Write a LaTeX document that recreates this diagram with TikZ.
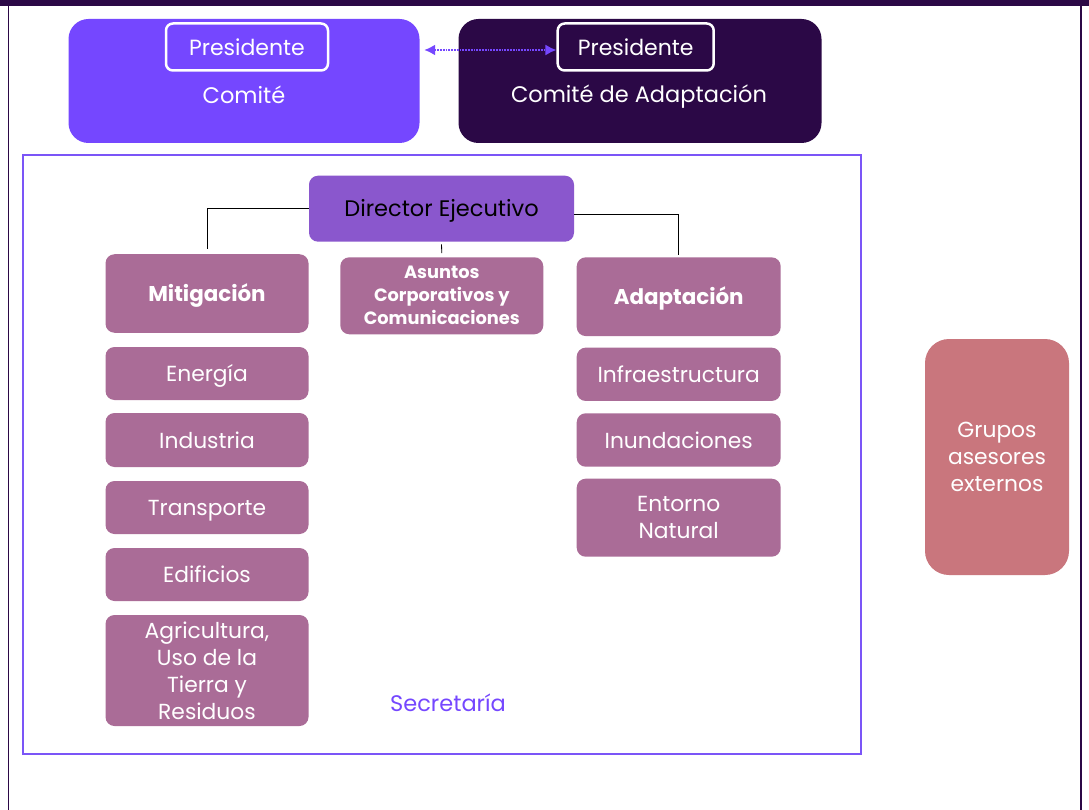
\documentclass[tikz,border=0pt]{standalone}
\usepackage{fontspec}
\setmainfont{Poppins}
\usetikzlibrary{arrows.meta}
\definecolor{darkp}{HTML}{2B0846}
\definecolor{violetc}{HTML}{7547FF}
\definecolor{dirc}{HTML}{8A57CD}
\definecolor{mauve}{HTML}{AA6C97}
\definecolor{rosec}{HTML}{C9767D}
\definecolor{framec}{HTML}{7B55F7}
\begin{document}
\begin{tikzpicture}[x=1pt,y=-1pt,
  oneline/.style={text height=16pt, text depth=0pt},
  bigbox/.style={rounded corners=20pt, minimum height=124pt, inner sep=0pt},
  presbox/.style={draw=white, line width=2.5pt, rounded corners=7pt, minimum height=47pt, inner sep=0pt, text=white, font=\fontsize{22}{26}\selectfont},
  bigtext/.style={text=white, font=\fontsize{22.5}{26}\selectfont, inner sep=0pt, oneline},
  subbox/.style={fill=mauve, rounded corners=9pt, minimum width=203pt, text=white, font=\fontsize{21.8}{27}\selectfont, align=center, inner sep=0pt},
  headbox/.style={subbox, font=\fontsize{21.4}{27}\selectfont\bfseries, oneline},
  conn/.style={draw=black, line width=0.8pt}
]
\useasboundingbox (0,0) rectangle (1089,810);
\fill[white] (0,0) rectangle (1089,810);
\fill[darkp] (0,0) rectangle (1089,6.5);
\draw[darkp, line width=1.3pt] (8.5,6) -- (8.5,810);
\draw[darkp, line width=1.3pt] (1081,6) -- (1081,810);

% top committees
\node[bigbox, fill=violetc, minimum width=351pt] (com) at (244,81) {};
\node[presbox, minimum width=162pt] (pres1) at (247,47) {Presidente};
\node[bigtext] (comt) at (244,96) {Comité};
\node[bigbox, fill=darkp, minimum width=363pt] (cad) at (640,81) {};
\node[presbox, minimum width=156pt] (pres2) at (635.7,47) {Presidente};
\node[bigtext] (cadt) at (639,95) {Comité de Adaptación};
\draw[violetc, densely dotted, line width=1.8pt, {Latex[length=11pt,width=11pt]}-{Latex[length=11pt,width=11pt]}, shorten <=4.5pt]
  ([yshift=-3pt]pres2.west -| com.east) -- ([yshift=-3pt]pres2.west);

% secretariat frame
\draw[framec, line width=2pt] (23,155.5) rectangle (861,753.5);

\node[fill=dirc, rounded corners=9pt, minimum width=265pt, minimum height=66pt, inner sep=0pt, font=\fontsize{22.5}{26}\selectfont, oneline] (dir) at (441.5,208.7) {Director Ejecutivo};

\node[headbox, minimum height=78.5pt] (mit) at (207,293.5) {Mitigación};
\node[subbox, oneline, minimum height=53pt] (ene) at (207,373.5) {Energía};
\node[subbox, oneline, minimum height=54pt] (ind) at (207,440) {Industria};
\node[subbox, oneline, minimum height=53pt] (tra) at (207,507.5) {Transporte};
\node[subbox, oneline, minimum height=53pt] (edi) at (207,574.5) {Edificios};
\node[subbox, minimum height=111pt] (agr) at (207,670.5) {Agricultura,\\Uso de la\\Tierra y\\Residuos};

\node[subbox, minimum height=77pt, font=\fontsize{17.8}{23}\selectfont\bfseries] (asu) at (441.8,295.8) {Asuntos\\Corporativos y\\Comunicaciones};

\node[headbox, minimum width=204pt, minimum height=78.7pt] (adp) at (678.7,296.7) {Adaptación};
\node[subbox, oneline, minimum width=204pt, minimum height=53.3pt] (inf) at (678.7,374.3) {Infraestructura};
\node[subbox, oneline, minimum width=204pt, minimum height=53.4pt] (inu) at (678.7,440) {Inundaciones};
\node[subbox, minimum width=204pt, minimum height=78pt] (ent) at (678.7,517.7) {Entorno\\Natural};

\node[fill=rosec, rounded corners=24pt, minimum width=144pt, minimum height=236pt, inner sep=0pt, text=white, align=center, font=\fontsize{21.8}{27}\selectfont] (gru) at (997,457) {Grupos\\asesores\\externos};

\node[text=violetc, inner sep=0pt, font=\fontsize{22.5}{26}\selectfont, oneline] (sec) at (448,703) {Secretaría};

% connectors
\draw[conn, shorten >=5.5pt] (dir.west) -| (mit.north);
\draw[conn, shorten >=2.5pt] ([yshift=-6pt]dir.east) -| (adp.north);
\draw[conn, shorten <=2.5pt, shorten >=4pt] (dir.south) -- (asu.north);
\end{tikzpicture}
\end{document}
